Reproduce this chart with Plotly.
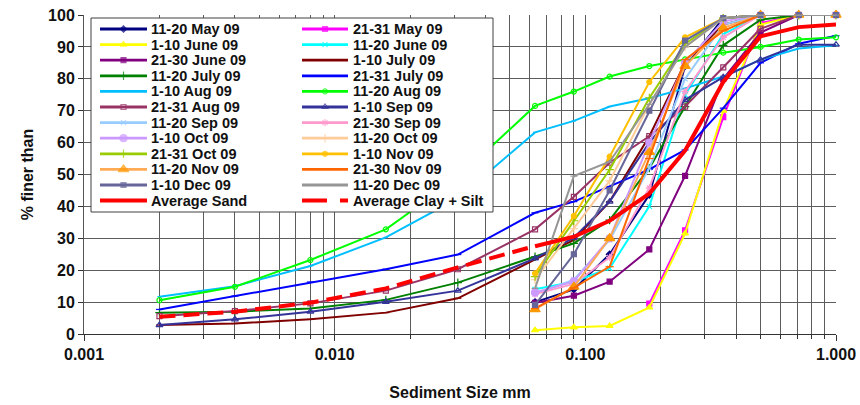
import plotly.graph_objects as go

# Particle sizes (mm): hydrometer + sieve, sieve only, and partial sets
size_fine = [0.002, 0.004, 0.008, 0.016, 0.031, 0.063, 0.09, 0.125, 0.18, 0.25, 0.355, 0.5, 0.71, 1.0]
size_sand = [0.063, 0.09, 0.125, 0.18, 0.25, 0.355, 0.5, 0.71, 1.0]
size_sand_coarse = [0.18, 0.25, 0.355, 0.5, 0.71, 1.0]
size_clay_silt = [0.002, 0.004, 0.008, 0.016, 0.031, 0.0625]

# Cumulative % finer for each sampling period
may_11_20 = [10, 14, 25, 43.6, 84, 99, 100, 100, 100]
may_21_31 = [9.5, 32.5, 68, 97.5, 100, 100]
jun_1_10 = [1.2, 2.1, 2.5, 8.3, 31.5, 70, 97, 100, 100]
jun_11_20 = [14, 16.4, 20.6, 40, 75, 94, 100, 100, 100]
jun_21_30 = [9.8, 12, 16.4, 26.5, 49.6, 80, 94.5, 100, 100]
jul_1_10 = [2.8, 3.3, 4.6, 6.7, 11.2, 23.4, 29.5, 41.5, 62, 85, 97, 100, 100, 100]
jul_11_20 = [6.7, 7, 8, 10.7, 16.1, 24.2, 28.4, 35.7, 52, 71.3, 90.5, 98.5, 100, 100]
jul_21_31 = [7.7, 11.9, 16.3, 20.3, 24.9, 38, 41.5, 46.2, 51.6, 57.7, 70.8, 85, 91, 93.5]
aug_1_10 = [11.7, 15, 21.3, 30.3, 42.5, 63.2, 66.8, 71.3, 73.9, 77, 80.7, 86, 89.5, 90.5]
aug_11_20 = [10.6, 14.8, 23.2, 32.8, 49, 71.5, 76, 80.7, 84, 86.1, 88.2, 90, 92.3, 93]
aug_21_31 = [5.6, 7.2, 9.6, 13.6, 20.3, 32.8, 43, 53.7, 62, 71.3, 83.6, 95.7, 100, 100]
sep_1_10 = [2.8, 4.6, 7, 10.1, 13.6, 23.7, 30.2, 41.5, 60, 73.4, 80.5, 86, 90.7, 90.7]
sep_11_20 = [12.5, 17, 29.5, 52, 80, 97, 100, 100, 100]
sep_21_30 = [12.5, 15.7, 24, 45.8, 76, 93, 100, 100, 100]
oct_1_10 = [13, 16.5, 30, 60, 85, 98, 100, 100, 100]
oct_11_20 = [17, 33, 48, 72, 90, 99, 100, 100, 100]
oct_21_31 = [18, 35.5, 51.5, 74, 91, 99, 100, 100, 100]
nov_1_10 = [19, 37, 55.6, 79, 93, 99, 100, 100, 100]
nov_11_20 = [7.7, 14.8, 30, 57, 84, 96, 100, 100, 100]
nov_21_30 = [8, 14.5, 21.1, 55, 86, 95, 100, 100, 100]
dec_1_10 = [9.1, 25, 45, 70, 92, 99, 100, 100, 100]
dec_11_20 = [14.3, 49.5, 54, 72, 90, 99, 100, 100, 100]
avg_sand = [27.5, 30.5, 35.5, 44, 57.5, 79, 93.3, 96.2, 97]
avg_clay_silt = [5.4, 7, 9.8, 14.3, 20.9, 27.5]

x_ticks = [0.001, 0.01, 0.1, 1.0]
x_tick_text = ["0.001", "0.010", "0.100", "1.000"]
y_ticks = list(range(0, 101, 10))

# name, sizes, values, colour, marker symbol, marker size
series = [
    ("11-20 May 09", size_sand, may_11_20, "#000080", "diamond", 5),
    ("21-31 May 09", size_sand_coarse, may_21_31, "#FF00FF", "square", 5),
    ("1-10 June 09", size_sand, jun_1_10, "#FFFF00", "triangle-up", 6),
    ("11-20 June 09", size_sand, jun_11_20, "#00FFFF", "x-thin", 5),
    ("21-30 June 09", size_sand, jun_21_30, "#800080", "square", 5),
    ("1-10 July 09", size_fine, jul_1_10, "#800000", "line-ew", 5),
    ("11-20 July 09", size_fine, jul_11_20, "#008000", "cross-thin", 6),
    ("21-31 July 09", size_fine, jul_21_31, "#0000FF", "line-ew", 5),
    ("1-10 Aug 09", size_fine, aug_1_10, "#00BFFF", "line-ew", 3),
    ("11-20 Aug 09", size_fine, aug_11_20, "#00FF00", "circle-open", 5),
    ("21-31 Aug 09", size_fine, aug_21_31, "#993366", "square-open", 5),
    ("1-10 Sep 09", size_fine, sep_1_10, "#333399", "triangle-up-open", 6),
    ("11-20 Sep 09", size_sand, sep_11_20, "#99CCFF", "x-thin", 5),
    ("21-30 Sep 09", size_sand, sep_21_30, "#FF99CC", "asterisk", 6),
    ("1-10 Oct 09", size_sand, oct_1_10, "#CC99FF", "circle", 7),
    ("11-20 Oct 09", size_sand, oct_11_20, "#FFCC99", "cross-thin", 6),
    ("21-31 Oct 09", size_sand, oct_21_31, "#99CC00", "cross-thin", 6),
    ("1-10 Nov 09", size_sand, nov_1_10, "#FFC000", "circle", 5),
    ("11-20 Nov 09", size_sand, nov_11_20, "#FFAA55", "triangle-up", 9),
    ("21-30 Nov 09", size_sand, nov_21_30, "#FF6600", "line-ew", 6),
    ("1-10 Dec 09", size_sand, dec_1_10, "#666699", "square", 5),
    ("11-20 Dec 09", size_sand, dec_11_20, "#969696", "line-ew", 5),
]
averages = [
    ("Average Sand", size_sand, avg_sand, "#FF0000", "solid"),
    ("Average Clay + Silt", size_clay_silt, avg_clay_silt, "#FF0000", "16px,8px"),
]

tri_colour = {"11-20 Nov 09": "#FF9900"}

fig = go.Figure()

for name, xs, ys, col, sym, ms in series:
    mcol = tri_colour.get(name, col)
    fig.add_trace(go.Scatter(
        x=xs, y=ys, name=name, mode="lines+markers", cliponaxis=False,
        line=dict(color=col, width=2),
        marker=dict(symbol=sym, size=ms, color=mcol,
                    line=dict(color=mcol, width=1.2)),
        showlegend=False,
    ))

for name, xs, ys, col, dash in averages:
    fig.add_trace(go.Scatter(
        x=xs, y=ys, name=name, mode="lines", cliponaxis=False,
        line=dict(color=col, width=4, dash=dash),
        showlegend=False,
    ))

# ---- legend panel drawn on a pixel-unit overlay axis ----
PX_L, PX_R, PX_T, PX_B = 84, 836, 15, 334
box = dict(x0=91, x1=493, y0=18, y1=212)
fig.add_trace(go.Scatter(
    x=[box["x0"], box["x1"], box["x1"], box["x0"], box["x0"]],
    y=[box["y0"], box["y0"], box["y1"], box["y1"], box["y0"]],
    xaxis="x2", yaxis="y2", mode="lines", fill="toself",
    fillcolor="white", line=dict(color="#404040", width=1),
    hoverinfo="skip", showlegend=False,
))

row0, row_step = 29, 15.6
cols = [(100, 147, 150), (302, 348, 352)]
entries = [(s[0], s[3], s[4], s[5], 2, "solid") for s in series]
entries += [(a[0], a[3], None, 0, 4, "25px,13px" if a[4] != "solid" else "solid") for a in averages]

annotations = []
for k, (name, col, sym, ms, lw, dash) in enumerate(entries):
    r, c = divmod(k, 2)
    xa, xb, xt = cols[c]
    yy = row0 + r * row_step
    mcol = tri_colour.get(name, col)
    fig.add_trace(go.Scatter(
        x=[xa, (xa + xb) / 2, xb], y=[yy, yy, yy], xaxis="x2", yaxis="y2",
        mode="lines+markers" if sym else "lines",
        line=dict(color=col, width=lw + (0.8 if lw == 2 else 0), dash=dash),
        marker=dict(symbol=sym or "circle", size=[0, ms, 0], color=mcol,
                    line=dict(color=mcol, width=1.2)),
        hoverinfo="skip", showlegend=False,
    ))
    annotations.append(dict(
        x=xt, y=yy, xref="x2", yref="y2", text=name, showarrow=False,
        xanchor="left", yanchor="middle", borderpad=0,
        font=dict(family="Liberation Sans, Arial, sans-serif", size=14.5,
                  color="#111111", weight="bold"),
    ))

grid_col = "#5c5c5c"
minor_vals = [m * 10 ** e for e in (-3, -2, -1) for m in range(2, 10)]
tick_font = dict(family="Liberation Sans, Arial, sans-serif", size=16,
                 color="#111111", weight="bold")

fig.update_layout(
    width=860, height=405,
    margin=dict(l=PX_L, r=860 - PX_R, t=PX_T, b=405 - PX_B),
    paper_bgcolor="white", plot_bgcolor="white",
    showlegend=False,
    annotations=annotations,
    xaxis=dict(
        type="log", range=[-3, 0], automargin=False,
        tickvals=x_ticks, ticktext=x_tick_text,
        showgrid=True, gridcolor=grid_col, gridwidth=1,
        minor=dict(tickvals=minor_vals, showgrid=True, gridcolor=grid_col,
                   gridwidth=1, ticks="outside", ticklen=4, tickcolor="#333"),
        ticks="outside", ticklen=6, tickcolor="#333",
        showline=True, linecolor="#333", linewidth=1, mirror=False,
        tickfont=tick_font,
        title=dict(text="Sediment Size mm", font=tick_font, standoff=24),
        zeroline=False,
    ),
    yaxis=dict(
        range=[0, 100], tickvals=y_ticks, automargin=False,
        showgrid=True, gridcolor=grid_col, gridwidth=1,
        ticks="outside", ticklen=5, tickcolor="#333",
        showline=True, linecolor="#555", linewidth=1,
        tickfont=tick_font,
        title=dict(text="% finer than", font=tick_font, standoff=10),
        zeroline=False,
    ),
    xaxis2=dict(overlaying="x", anchor="y2", range=[PX_L, PX_R],
                visible=False, fixedrange=True),
    yaxis2=dict(overlaying="y", anchor="x2", range=[PX_B, PX_T],
                visible=False, fixedrange=True),
)

fig.write_html("out.html")
